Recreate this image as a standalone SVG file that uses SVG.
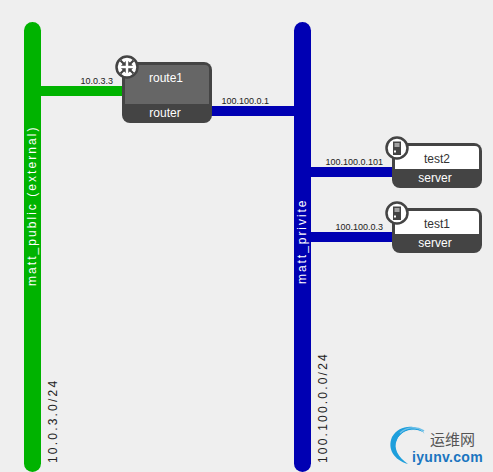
<svg xmlns="http://www.w3.org/2000/svg" width="493" height="472" viewBox="0 0 493 472">
<style>
text{font-family:"Liberation Sans",Arial,sans-serif}
.ip{font-size:9px;fill:#222;text-anchor:end}
.net{font-size:12px;fill:#fff}
.cidr{font-size:12px;fill:#222;letter-spacing:2.2px}
.nm{font-size:12px;text-anchor:middle}
.ty{font-size:12px;fill:#fff;text-anchor:middle}
.box{fill:#444}
.ico{fill:#fff;stroke:#444;stroke-width:2.5}
.g{fill:#00b300}.b{fill:#0000b3}
</style>
<rect width="493" height="472" fill="#efefef"/>
<g id="connectors">
<rect class="g" x="41" y="86" width="82" height="10"/>
<rect class="b" x="211" y="106" width="84" height="10"/>
<rect class="b" x="310" y="167" width="83" height="10"/>
<rect class="b" x="310" y="232" width="83" height="10"/>
<text class="ip" x="113" y="84">10.0.3.3</text>
<text class="ip" x="269" y="104">100.100.0.1</text>
<text class="ip" x="383" y="165">100.100.0.101</text>
<text class="ip" x="383" y="230">100.100.0.3</text>
</g>
<g id="net-public">
<rect class="g" x="24" y="22" width="17" height="450" rx="8.5"/>
<text class="net" letter-spacing="2.05" transform="translate(36,286) rotate(-90)">matt_public (external)</text>
<text class="cidr" transform="translate(57,463) rotate(-90)">10.0.3.0/24</text>
</g>
<g id="net-private">
<rect class="b" x="294" y="22" width="17" height="450" rx="8.5"/>
<text class="net" letter-spacing="1.95" transform="translate(306,284) rotate(-90)">matt_privite</text>
<text class="cidr" transform="translate(327,463) rotate(-90)">100.100.0.0/24</text>
</g>
<g id="route1">
<rect class="box" x="122" y="62" width="90" height="61" rx="8"/>
<path d="M129 65H205a4 4 0 0 1 4 4V104H125V69a4 4 0 0 1 4-4z" fill="#666"/>
<text class="nm" x="166" y="82" fill="#fff">route1</text>
<text class="ty" x="165" y="117">router</text>
<circle class="ico" cx="127" cy="67" r="10.5"/>
<g stroke="#444" fill="#444">
<path d="M120.500 60.500L124 64M133.500 60.500L130 64M120.500 73.500L124 70M133.500 73.500L130 70" fill="none" stroke-width="2.200"/>
<path d="M125.500 65.500v-4l-4 4zM128.500 65.500v-4l4 4zM125.500 68.500v4l-4-4zM128.500 68.500v4l4-4z" stroke-width=".5"/>
</g>
</g>
<g id="test2">
<rect class="box" x="392" y="143" width="90" height="45" rx="8"/>
<path d="M399 146H475a4 4 0 0 1 4 4V169H395V150a4 4 0 0 1 4-4z" fill="#fff"/>
<text class="nm" x="437" y="163" fill="#333">test2</text>
<text class="ty" x="435" y="182">server</text>
<circle class="ico" cx="397" cy="148" r="10.500"/>
<rect x="393" y="141.500" width="8" height="13.500" fill="#444"/>
<rect x="394.500" y="143.500" width="5" height="1" fill="#fff"/><rect x="394.500" y="145.500" width="5" height="1" fill="#fff"/><rect x="394" y="150.500" width="2" height="2" fill="#fff"/>
</g>
<g id="test1">
<rect class="box" x="392" y="208" width="90" height="45" rx="8"/>
<path d="M399 211H475a4 4 0 0 1 4 4V234H395V215a4 4 0 0 1 4-4z" fill="#fff"/>
<text class="nm" x="437" y="228" fill="#333">test1</text>
<text class="ty" x="435" y="247">server</text>
<circle class="ico" cx="397" cy="213" r="10.500"/>
<rect x="393" y="206.500" width="8" height="13.500" fill="#444"/>
<rect x="394.500" y="208.500" width="5" height="1" fill="#fff"/><rect x="394.500" y="210.500" width="5" height="1" fill="#fff"/><rect x="394" y="215.500" width="2" height="2" fill="#fff"/>
</g>
<g id="watermark">
<path d="M425 434C416 423 399 425 392 437C387 449 394 460 408 464C398 457 393 448 397 440C402 429 416 427 425 434z" fill="#1e9fdc"/>
<path d="M425 434C417 428 405 429 399 437C395 444 397 452 402 458" fill="none" stroke="#efefef" stroke-width="1"/>
<path d="M424 431C416 426 406 427 400 433" fill="none" stroke="#6fc0e8" stroke-width="1.500"/>
<text x="430" y="445" font-size="15" fill="#555" style="font-family:'Noto Sans CJK SC',sans-serif">运维网</text>
<text x="412" y="462" font-size="14" font-weight="700" fill="#1a75c0" letter-spacing=".3">iyunv.com</text>
</g>
</svg>
